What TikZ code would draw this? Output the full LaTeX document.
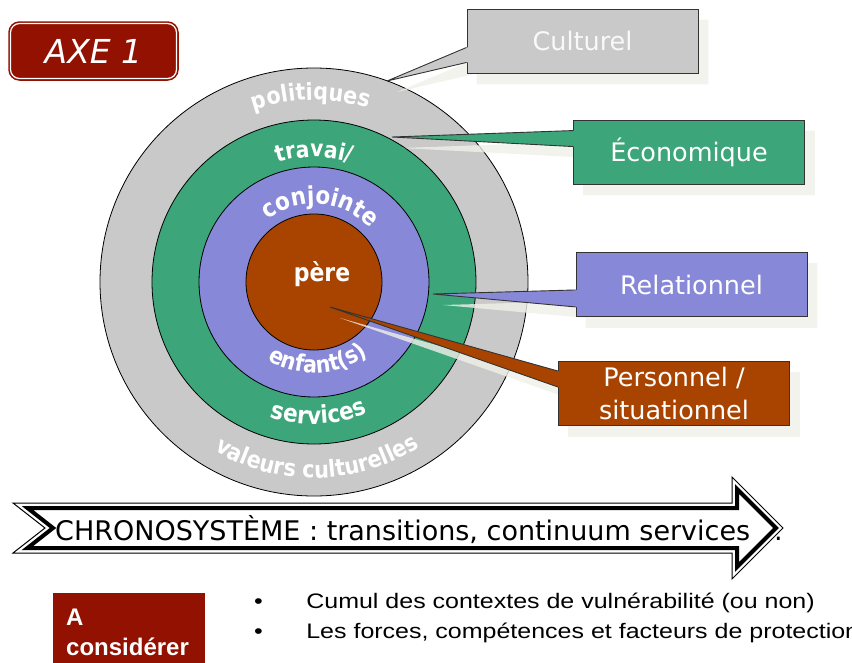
\documentclass[tikz,border=0pt]{standalone}
\usepackage{fontspec}
\setmainfont{DejaVu Sans}
\newfontfamily\ringfont[FakeStretch=0.88]{DejaVu Sans}
\newfontfamily\arialfont{Liberation Sans}
\newfontfamily\listfamily[FakeStretch=1.19]{Liberation Sans}
\usetikzlibrary{calc, positioning, decorations.text}

\definecolor{ringgray}{HTML}{C9C9C9}
\definecolor{ringgreen}{HTML}{3CA57A}
\definecolor{ringblue}{HTML}{8888D8}
\definecolor{ringbrown}{HTML}{A84400}
\definecolor{axered}{HTML}{921100}
\definecolor{boxline}{HTML}{333333}
\definecolor{shadecol}{HTML}{F0F0EA}

\pgfdeclarelayer{back}
\pgfdeclarelayer{shade}
\pgfsetlayers{back,shade,main}

\begin{document}
\begin{tikzpicture}[x=1pt, y=1pt,
    ring/.style={draw=black, line width=0.8pt},
    ringtext/.style={decorate, decoration={text along path, text align=center, text color=white}},
    callout/.style={draw=boxline, line width=0.9pt, minimum width=231, minimum height=64, inner sep=0pt,
        text=white, align=center, font=\fontsize{25.5}{33}\selectfont},
    wedge/.style={draw=boxline, line width=0.9pt},
    shadowfill/.style={fill=shadecol, fill opacity=0.8},
    plain/.style={inner sep=0pt, anchor=base west},
    listfont/.style={font=\listfamily\fontsize{21}{21}\selectfont}
]
    \useasboundingbox (0,0) rectangle (852,-662);

    % rings
    \coordinate (ctr) at (314,-282);
    \begin{pgfonlayer}{back}
        \filldraw[ring, fill=ringgray] (ctr) circle[radius=214];
        \filldraw[ring, fill=ringgreen] (ctr) circle[radius=162];
        \filldraw[ring, fill=ringblue] (ctr) circle[radius=115];
        \filldraw[ring, fill=ringbrown] (ctr) circle[radius=68];
    \end{pgfonlayer}

    \path[ringtext, decoration={text={|\ringfont\bfseries\fontsize{23.5}{23.5}\selectfont|politiques}}]
        ($(ctr)+(151:182)$) arc[start angle=151, end angle=31, radius=182];
    \path[ringtext, decoration={text={|\ringfont\bfseries\fontsize{23}{23}\selectfont|travai/}}]
        ($(ctr)+(150:125)$) arc[start angle=150, end angle=30, radius=125];
    \path[ringtext, decoration={text={|\ringfont\bfseries\fontsize{24.5}{24.5}\selectfont|conjointe}}]
        ($(ctr)+(150:78)$) arc[start angle=150, end angle=20, radius=78];
    \path[ringtext, decoration={text={|\ringfont\bfseries\fontsize{23.5}{23.5}\selectfont|enfant(s)}}]
        ($(ctr)+(203:91)$) arc[start angle=203, end angle=343, radius=91];
    \path[ringtext, decoration={text={|\ringfont\bfseries\fontsize{24.5}{24.5}\selectfont|services}}]
        ($(ctr)+(207:142)$) arc[start angle=207, end angle=337, radius=142];
    \path[ringtext, decoration={text={|\ringfont\bfseries\fontsize{23.5}{23.5}\selectfont|valeurs culturelles}}]
        ($(ctr)+(201:196)$) arc[start angle=201, end angle=341, radius=196];
    \node[text=white, font=\ringfont\bfseries\fontsize{25}{25}\selectfont] (pere) at (322,-274) {père};

    % callouts
    \node[callout, fill=ringgray, text=white!95!gray] (cult) at (582.5,-41) {Culturel};
    \node[callout, fill=ringgreen] (econ) at (689,-152) {Économique};
    \node[callout, fill=ringblue] (rela) at (691.5,-284.5) {Relationnel};
    \node[callout, fill=ringbrown] (perso) at (674,-393.5) {Personnel /\\situationnel};

    \coordinate (tipcult) at (387,-81);
    \coordinate (tipecon) at (392,-137);
    \coordinate (tiprela) at (433,-294);
    \coordinate (tipperso) at (330,-307);

    \begin{pgfonlayer}{shade}
        \begin{scope}[transform canvas={shift={(10,-11)}}]
            \fill[shadowfill] (tipcult) -- ($(cult.south west)+(0,11)$) -- ($(cult.south west)+(0,26)$) -- cycle
                (cult.south west) rectangle (cult.north east);
            \fill[shadowfill] (tipecon) -- ($(econ.north west)+(0,-11)$) -- ($(econ.north west)+(0,-27)$) -- cycle
                (econ.south west) rectangle (econ.north east);
            \fill[shadowfill] (tiprela) -- ($(rela.south west)+(0,10)$) -- ($(rela.south west)+(0,27)$) -- cycle
                (rela.south west) rectangle (rela.north east);
            \fill[shadowfill] (tipperso) -- ($(perso.north west)+(0,-10)$) -- ($(perso.north west)+(0,-26)$) -- cycle
                (perso.south west) rectangle (perso.north east);
        \end{scope}
    \end{pgfonlayer}

    \fill[ringgray] (tipcult) -- ($(cult.south west)+(0,11)$) -- ($(cult.south west)+(2,11)$)
        -- ($(cult.south west)+(2,26)$) -- ($(cult.south west)+(0,26)$) -- cycle;
    \draw[wedge] ($(cult.south west)+(0,11)$) -- (tipcult) -- ($(cult.south west)+(0,26)$);
    \fill[ringgreen] (tipecon) -- ($(econ.north west)+(0,-11)$) -- ($(econ.north west)+(2,-11)$)
        -- ($(econ.north west)+(2,-27)$) -- ($(econ.north west)+(0,-27)$) -- cycle;
    \draw[wedge] ($(econ.north west)+(0,-11)$) -- (tipecon) -- ($(econ.north west)+(0,-27)$);
    \fill[ringblue] (tiprela) -- ($(rela.south west)+(0,10)$) -- ($(rela.south west)+(2,10)$)
        -- ($(rela.south west)+(2,27)$) -- ($(rela.south west)+(0,27)$) -- cycle;
    \draw[wedge] ($(rela.south west)+(0,10)$) -- (tiprela) -- ($(rela.south west)+(0,27)$);
    \fill[ringbrown] (tipperso) -- ($(perso.north west)+(0,-10)$) -- ($(perso.north west)+(2,-10)$)
        -- ($(perso.north west)+(2,-26)$) -- ($(perso.north west)+(0,-26)$) -- cycle;
    \draw[wedge] ($(perso.north west)+(0,-10)$) -- (tipperso) -- ($(perso.north west)+(0,-26)$);

    % title
    \node[draw=white, line width=1.2pt, fill=axered, rounded corners=9pt, minimum width=166, minimum height=55,
        preaction={draw=axered, line width=4.5pt}, text=white,
        font=\itshape\fontsize{33}{33}\selectfont] (axe) at (93.5,-51) {AXE 1};

    % chronosysteme arrow
    \filldraw[draw=black, fill=white, line width=1pt, line join=miter]
        (13,-503) -- (732,-503) -- (732,-477) -- (783,-528) -- (732,-579) -- (732,-553) -- (13,-553) -- (45,-528) -- cycle;
    \draw[line width=4pt, line join=miter]
        (27.5,-508) -- (737,-508) -- (737,-489) -- (776,-528) -- (737,-567) -- (737,-548) -- (27.5,-548) -- (53,-528) -- cycle;
    \node[plain, font=\fontsize{27}{27}\selectfont] (chrono) at (55,-540) {CHRONOSYSTÈME : transitions, continuum services};
    \node[plain, font=\fontsize{27}{27}\selectfont] (chronodot) at (774,-540) {.};

    % bottom notes
    \fill[axered] (53,-593) rectangle (205,-670);
    \node[plain, align=left, text=white, font=\arialfont\bfseries\fontsize{24}{30}\selectfont] (consider) at (66,-655) {A\\considérer};
    \node[plain, listfont] (bullone) at (254,-608) {•};
    \node[plain, listfont] (bulltwo) at (254,-638) {•};
    \node[plain, listfont, base right=43pt of bullone] (itemone) {Cumul des contextes de vulnérabilité (ou non)};
    \node[plain, listfont, base right=43pt of bulltwo] (itemtwo) {Les forces, compétences et facteurs de protection};
\end{tikzpicture}
\end{document}
